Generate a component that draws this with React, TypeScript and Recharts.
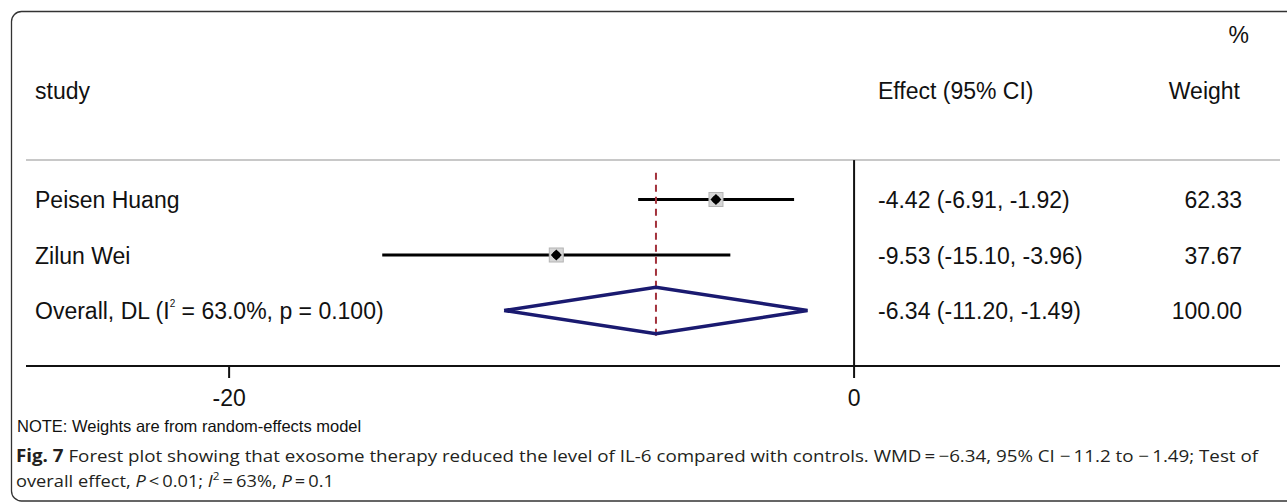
import React from 'react';
import { ComposedChart, XAxis, YAxis, Scatter, ReferenceLine } from 'recharts';

// ---- data ----
const studies = ['Peisen Huang', 'Zilun Wei'];
const estimates = [-4.42, -9.53];
const lowerCI = [-6.91, -15.1];
const upperCI = [-1.92, -3.96];
const weights = ['62.33', '37.67'];
const overallEst = -6.34;
const overallLo = -11.2;
const overallHi = -1.49;
const overallWeight = '100.00';
const xTicks = [-20, 0];
const xDomain = [-26.5, 13.63];

const W = 1287;
const H = 503;
const ROW_FONT = "'Liberation Sans', Arial, sans-serif";
const CAP_FONT = "'Open Sans', 'Noto Sans', sans-serif";

const fmt = (v: number) => v.toFixed(2);
const effectText = (e: number, l: number, h: number) => `${fmt(e)} (${fmt(l)}, ${fmt(h)})`;

const studyPoints = studies.map((s, i) => ({ x: estimates[i], y: i + 1, name: s }));
const overallRow = studies.length + 1;
const diamondHalf = 0.42;
const diamondPts = [
  { x: overallLo, y: overallRow },
  { x: overallEst, y: overallRow - diamondHalf },
  { x: overallHi, y: overallRow },
  { x: overallEst, y: overallRow + diamondHalf },
  { x: overallLo, y: overallRow },
];

const StudyMarker = (props: any) => {
  const { cx, cy } = props;
  if (cx == null || cy == null) return <g />;
  const r = 5.5;
  return (
    <g>
      <rect x={cx - 7} y={cy - 7} width={14} height={14} fill="#d6d6d6" stroke="#b4b4b4" strokeWidth={1} />
      <polygon points={`${cx},${cy - r} ${cx + r},${cy} ${cx},${cy + r} ${cx - r},${cy}`} fill="#000" />
      <circle cx={cx} cy={cy} r={3.8} fill="#000" />
    </g>
  );
};

const Empty = () => <g />;

// layout constants (pixels)
const PLOT_TOP = 144;
const PLOT_BOTTOM = 366;
const Y_MAX = 4;
const rowY = (r: number) => PLOT_TOP + ((PLOT_BOTTOM - PLOT_TOP) * r) / Y_MAX;

export default function App() {
  return (
    <div style={{ position: 'absolute', left: 0, top: 0, width: W, height: H, overflow: 'hidden', background: '#fff' }}>
      <ComposedChart
        width={W}
        height={H}
        margin={{ top: PLOT_TOP, right: 7, bottom: H - PLOT_BOTTOM - 40, left: 26 }}
      >
        <XAxis
          type="number"
          dataKey="x"
          domain={xDomain}
          allowDataOverflow
          ticks={xTicks}
          height={40}
          tickSize={12}
          tickMargin={12}
          axisLine={{ stroke: '#111', strokeWidth: 2 }}
          tickLine={{ stroke: '#111', strokeWidth: 2 }}
          tick={{ fontSize: 23, fill: '#111', fontFamily: ROW_FONT }}
        />
        <YAxis type="number" dataKey="y" domain={[0, Y_MAX]} allowDataOverflow reversed hide />
        <ReferenceLine y={0.29} stroke="#c8c8c8" strokeWidth={2} />
        <ReferenceLine
          segment={[{ x: 0, y: 0.29 }, { x: 0, y: Y_MAX }]}
          stroke="#111"
          strokeWidth={2}
        />
        {studies.map((s, i) => (
          <ReferenceLine
            key={s}
            segment={[{ x: lowerCI[i], y: i + 1 }, { x: upperCI[i], y: i + 1 }]}
            stroke="#000"
            strokeWidth={3}
          />
        ))}
        <Scatter
          data={diamondPts}
          shape={Empty}
          line={{ stroke: '#1a1a70', strokeWidth: 3.5 }}
          lineType="joint"
          isAnimationActive={false}
        />
        <Scatter data={studyPoints} shape={StudyMarker} isAnimationActive={false} />
        <ReferenceLine
          segment={[{ x: overallEst, y: 0.52 }, { x: overallEst, y: 3.53 }]}
          stroke="#a3323c"
          strokeWidth={2}
          strokeDasharray="7 5"
        />
      </ComposedChart>

      <svg
        width={W}
        height={H}
        style={{ position: 'absolute', left: 0, top: 0, pointerEvents: 'none' }}
      >
        <rect x={11.5} y={11.5} width={1300} height={489.5} rx={10} fill="none" stroke="#333" strokeWidth={1.3} />
        <g fontFamily={ROW_FONT} fontSize={23} fill="#111">
          <text x={1249} y={43} textAnchor="end">%</text>
          <text x={35} y={99}>study</text>
          <text x={878} y={99}>Effect (95% CI)</text>
          <text x={1240} y={99} textAnchor="end">Weight</text>
          {studies.map((s, i) => (
            <g key={s}>
              <text x={35} y={rowY(i + 1) + 8.5}>{s}</text>
              <text x={878} y={rowY(i + 1) + 8.5}>{effectText(estimates[i], lowerCI[i], upperCI[i])}</text>
              <text x={1242} y={rowY(i + 1) + 8.5} textAnchor="end">{weights[i]}</text>
            </g>
          ))}
          <text x={35} y={rowY(overallRow) + 8.5}>
            Overall, DL (I
            <tspan fontSize={10} dy={-12}>2</tspan>
            <tspan dy={12}> = 63.0%, p = 0.100)</tspan>
          </text>
          <text x={878} y={rowY(overallRow) + 8.5}>{effectText(overallEst, overallLo, overallHi)}</text>
          <text x={1242} y={rowY(overallRow) + 8.5} textAnchor="end">{overallWeight}</text>
        </g>
        <text x={17} y={432} fontFamily={ROW_FONT} fontSize={16.5} fill="#111">
          NOTE: Weights are from random-effects model
        </text>
        <g fontFamily={CAP_FONT} fontSize={17} fill="#231f20">
          <text x={16} y={462} textLength={1242} lengthAdjust="spacingAndGlyphs">
            <tspan fontWeight="bold">Fig. 7</tspan>
            {'  Forest plot showing that exosome therapy reduced the level of IL-6 compared with controls. WMD\u2009=\u2009\u22126.34, 95% CI \u2212\u200911.2 to \u2212\u20091.49; Test of'}
          </text>
          <text x={16} y={487} textLength={318} lengthAdjust="spacingAndGlyphs">
            {'overall effect, '}
            <tspan fontStyle="italic">P</tspan>
            {'\u2009<\u20090.01; '}
            <tspan fontStyle="italic">I</tspan>
            <tspan fontSize={11} dy={-7}>2</tspan>
            <tspan dy={7}>{'\u2009=\u200963%, '}</tspan>
            <tspan fontStyle="italic">P</tspan>
            {'\u2009=\u20090.1'}
          </text>
        </g>
      </svg>
    </div>
  );
}
